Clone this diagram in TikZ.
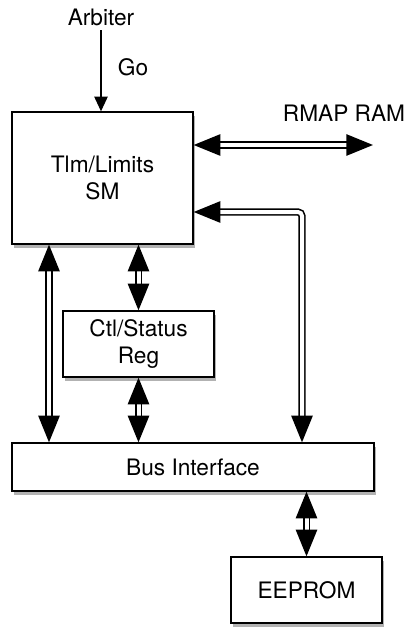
\documentclass[tikz,border=0pt]{standalone}
\usepackage{fontspec}
\setmainfont{TeX Gyre Heros}
\usetikzlibrary{arrows.meta,shadows}

\begin{document}
\begin{tikzpicture}[x=0.75pt,y=0.75pt,yscale=-1,xscale=1,
    font=\fontsize{17}{20}\selectfont,
    block/.style={draw,line width=1pt,fill=white,align=center,inner sep=0pt,
        drop shadow={shadow xshift=1.5pt,shadow yshift=-3pt,fill=black!55,opacity=.55}},
    dbl/.style={double,line width=1.2pt,double distance=3pt,
        {Triangle[length=20pt,width=16pt]}-{Triangle[length=20pt,width=16pt]}},
    sgl/.style={line width=1pt,-{Triangle[length=11pt,width=10pt]}}]
    \useasboundingbox (0,0) rectangle (414,628);

    % blocks
    \node [block,minimum width=181*0.75pt,minimum height=132*0.75pt] (tlm) at (102.5,178) {Tlm/Limits\\SM};
    \node [block,minimum width=151*0.75pt,minimum height=66*0.75pt] (ctl) at (138.5,344) {Ctl/Status\\Reg};
    \node [block,minimum width=362*0.75pt,minimum height=48*0.75pt] (bus) at (193,467) {Bus Interface};
    \node [block,minimum width=151*0.75pt,minimum height=66*0.75pt] (eeprom) at (306.5,590) {EEPROM};

    % labels
    \node (arb) at (101,17) {Arbiter};
    \node (go) at (133,67) {Go};
    \node (rmap) at (344,113) {RMAP RAM};
    \coordinate (ram) at (373,145);
    \coordinate (bend) at (302,212);

    % connectors
    \draw [sgl] (arb) -- (arb |- tlm.north);
    \draw [dbl] (tlm.east |- ram) -- (ram);
    \draw [dbl,rounded corners=3] (tlm.east |- bend) -- (bend) -- (bend |- bus.north);
    \draw [dbl] (49,0 |- tlm.south) -- (49,0 |- bus.north);
    \draw [dbl] (ctl.north |- tlm.south) -- (ctl.north);
    \draw [dbl] (ctl.south) -- (ctl.south |- bus.north);
    \draw [dbl] (eeprom.north |- bus.south) -- (eeprom.north);
\end{tikzpicture}
\end{document}
